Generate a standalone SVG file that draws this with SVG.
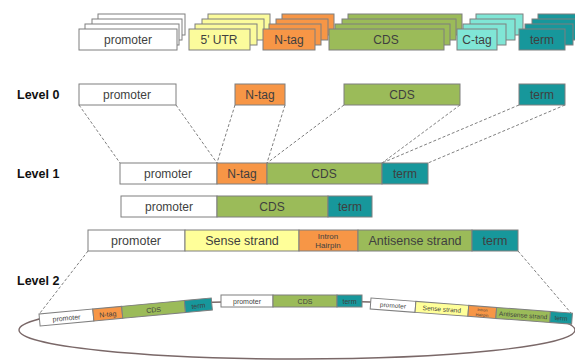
<svg xmlns="http://www.w3.org/2000/svg" width="575" height="361" viewBox="0 0 575 361">
  <style>
    rect { stroke: #7f7f7f; stroke-width: 1; }
    .pro { fill: #ffffff; }
    .utr { fill: #fbfb9c; }
    .ntag { fill: #f79646; }
    .cds { fill: #9bbb59; }
    .ctag { fill: #80e6d6; }
    .term { fill: #17979b; }
    .sense { fill: #ffff99; }
    text { font-family: "Liberation Sans", Arial, sans-serif; fill: #3f3f3f; text-anchor: middle; }
    .lbl { font-size: 12px; }
    .lvl { font-size: 12.5px; font-weight: bold; fill: #111; text-anchor: start; }
    .dash { stroke: #808080; stroke-width: 1; stroke-dasharray: 3 2; fill: none; }
  </style>

  <!-- Part library: stacked variants of each part type -->
  <g id="library">
    <g id="lib-promoter">
      <rect class="pro" x="98" y="14" width="87" height="21"/>
      <rect class="pro" x="92" y="19" width="90" height="21"/>
      <rect class="pro" x="85" y="24" width="94" height="21"/>
      <rect class="pro" x="79" y="29" width="98" height="21"/>
      <text class="lbl" x="128" y="44">promoter</text>
    </g>
    <g id="lib-utr">
      <rect class="utr" x="208" y="14" width="62" height="21"/>
      <rect class="utr" x="202" y="19" width="62" height="21"/>
      <rect class="utr" x="195" y="24" width="62" height="21"/>
      <rect class="utr" x="189" y="29" width="61" height="21"/>
      <text class="lbl" x="219" y="44">5' UTR</text>
    </g>
    <g id="lib-ntag">
      <rect class="ntag" x="282" y="14" width="52" height="21"/>
      <rect class="ntag" x="276" y="19" width="52" height="21"/>
      <rect class="ntag" x="269" y="24" width="52" height="21"/>
      <rect class="ntag" x="263" y="29" width="52" height="21"/>
      <text class="lbl" x="289" y="44">N-tag</text>
    </g>
    <g id="lib-cds">
      <rect class="cds" x="348" y="14" width="114" height="21"/>
      <rect class="cds" x="342" y="19" width="114" height="21"/>
      <rect class="cds" x="335" y="24" width="115" height="21"/>
      <rect class="cds" x="329" y="29" width="115" height="21"/>
      <text class="lbl" x="386" y="44">CDS</text>
    </g>
    <g id="lib-ctag">
      <rect class="ctag" x="476" y="14" width="47" height="21"/>
      <rect class="ctag" x="470" y="19" width="45" height="21"/>
      <rect class="ctag" x="463" y="24" width="43" height="21"/>
      <rect class="ctag" x="457" y="29" width="40" height="21"/>
      <text class="lbl" x="477" y="44">C-tag</text>
    </g>
    <g id="lib-term">
      <rect class="term" x="538" y="14" width="48" height="21"/>
      <rect class="term" x="532" y="19" width="48" height="21"/>
      <rect class="term" x="525" y="24" width="48" height="21"/>
      <rect class="term" x="519" y="29" width="46" height="21"/>
      <text class="lbl" x="542" y="44">term</text>
    </g>
  </g>

  <!-- Level labels -->
  <text class="lvl" x="17" y="99">Level 0</text>
  <text class="lvl" x="17" y="178">Level 1</text>
  <text class="lvl" x="17" y="285">Level 2</text>

  <!-- Connectors -->
  <g id="connectors">
    <line class="dash" x1="79" y1="105" x2="120" y2="163"/>
    <line class="dash" x1="176" y1="105" x2="217" y2="163"/>
    <line class="dash" x1="235" y1="105" x2="217" y2="163"/>
    <line class="dash" x1="285" y1="105" x2="267" y2="163"/>
    <line class="dash" x1="344" y1="105" x2="267" y2="163"/>
    <line class="dash" x1="460" y1="105" x2="382" y2="163"/>
    <line class="dash" x1="519" y1="105" x2="382" y2="163"/>
    <line class="dash" x1="565" y1="105" x2="428" y2="163"/>
    <line class="dash" x1="88" y1="251" x2="40" y2="313"/>
    <line class="dash" x1="518" y1="251" x2="571" y2="313"/>
  </g>

  <!-- Level 0 parts -->
  <g id="l0-promoter">
    <rect class="pro" x="79" y="84" width="97" height="21"/>
    <text class="lbl" x="127" y="99">promoter</text>
  </g>
  <g id="l0-ntag">
    <rect class="ntag" x="235" y="84" width="50" height="21"/>
    <text class="lbl" x="260" y="99">N-tag</text>
  </g>
  <g id="l0-cds">
    <rect class="cds" x="344" y="84" width="116" height="21"/>
    <text class="lbl" x="402" y="99">CDS</text>
  </g>
  <g id="l0-term">
    <rect class="term" x="519" y="84" width="46" height="21"/>
    <text class="lbl" x="542" y="99">term</text>
  </g>

  <!-- Level 1 constructs -->
  <g id="l1-construct-a">
    <rect class="pro" x="120" y="163" width="97" height="21"/>
    <rect class="ntag" x="217" y="163" width="50" height="21"/>
    <rect class="cds" x="267" y="163" width="115" height="21"/>
    <rect class="term" x="382" y="163" width="46" height="21"/>
    <text class="lbl" x="168" y="178">promoter</text>
    <text class="lbl" x="242" y="178">N-tag</text>
    <text class="lbl" x="324" y="178">CDS</text>
    <text class="lbl" x="405" y="178">term</text>
  </g>
  <g id="l1-construct-b">
    <rect class="pro" x="121" y="196" width="96" height="21"/>
    <rect class="cds" x="217" y="196" width="111" height="21"/>
    <rect class="term" x="328" y="196" width="44" height="21"/>
    <text class="lbl" x="169" y="211">promoter</text>
    <text class="lbl" x="272" y="211">CDS</text>
    <text class="lbl" x="350" y="211">term</text>
  </g>
  <g id="l1-construct-c">
    <rect class="pro" x="88" y="230" width="97" height="21"/>
    <rect class="sense" x="185" y="230" width="114" height="21"/>
    <rect class="ntag" x="299" y="230" width="59" height="21"/>
    <rect class="cds" x="358" y="230" width="114" height="21"/>
    <rect class="term" x="472" y="230" width="46" height="21"/>
    <text class="lbl" x="136" y="245" style="font-size:12.5px">promoter</text>
    <text class="lbl" x="242" y="245" style="font-size:12.5px">Sense strand</text>
    <text x="328" y="239" style="font-size:8px">Intron</text>
    <text x="328" y="248" style="font-size:8px">Hairpin</text>
    <text class="lbl" x="415" y="245" style="font-size:12.5px">Antisense strand</text>
    <text class="lbl" x="495" y="245" style="font-size:12.5px">term</text>
  </g>

  <!-- Level 2 plasmid -->
  <g id="l2-plasmid">
    <ellipse cx="297" cy="330" rx="278" ry="29" fill="none" stroke="#7a6868" stroke-width="1.4"/>
    <g id="l2-unit-a" transform="translate(39,314) rotate(-5.3)">
      <rect class="pro" x="0" y="0" width="54" height="12"/>
      <rect class="ntag" x="54" y="0" width="29" height="12"/>
      <rect class="cds" x="83" y="0" width="63" height="12"/>
      <rect class="term" x="146" y="0" width="27" height="12"/>
      <text x="27" y="9" style="font-size:7px">promoter</text>
      <text x="68.5" y="9" style="font-size:7px">N-tag</text>
      <text x="114.5" y="9" style="font-size:7px">CDS</text>
      <text x="159.5" y="9" style="font-size:7px">term</text>
    </g>
    <g id="l2-unit-b">
      <rect class="pro" x="221" y="295" width="52" height="12"/>
      <rect class="cds" x="273" y="295" width="64" height="12"/>
      <rect class="term" x="337" y="295" width="25" height="12"/>
      <text x="247" y="304" style="font-size:7px">promoter</text>
      <text x="305" y="304" style="font-size:7px">CDS</text>
      <text x="349.5" y="304" style="font-size:7px">term</text>
    </g>
    <g id="l2-unit-c" transform="translate(371,298) rotate(4.3)">
      <rect class="pro" x="0" y="0" width="45" height="11"/>
      <rect class="sense" x="45" y="0" width="53" height="11"/>
      <rect class="ntag" x="98" y="0" width="28" height="11"/>
      <rect class="cds" x="126" y="0" width="54" height="11"/>
      <rect class="term" x="180" y="0" width="22" height="11"/>
      <text x="22.5" y="8" style="font-size:6.5px">promoter</text>
      <text x="71.5" y="8" style="font-size:6.5px">Sense strand</text>
      <text x="112" y="5" style="font-size:4px">Intron</text>
      <text x="112" y="10" style="font-size:4px">Hairpin</text>
      <text x="153" y="8" style="font-size:6.5px">Antisense strand</text>
      <text x="191" y="8" style="font-size:6.5px">term</text>
    </g>
  </g>
</svg>
